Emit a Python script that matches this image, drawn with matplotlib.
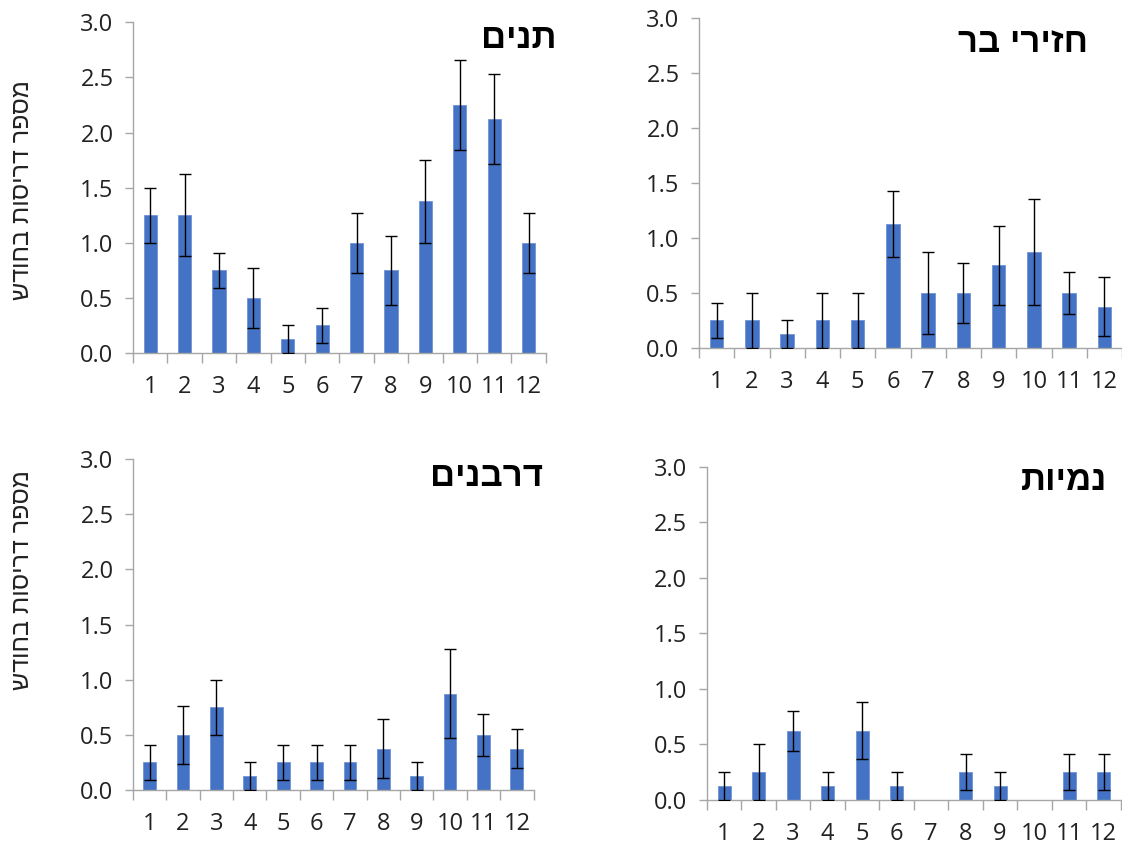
import numpy as np
import matplotlib
matplotlib.use("Agg")
import matplotlib.pyplot as plt

# months
months = [str(m) for m in range(1, 13)]

# mean road-kills per month and standard error, per species
jackal_mean = [1.25, 1.25, 0.75, 0.5, 0.125, 0.25, 1.0, 0.75, 1.375, 2.25, 2.125, 1.0]
jackal_err = [0.25, 0.37, 0.16, 0.27, 0.125, 0.16, 0.27, 0.31, 0.38, 0.41, 0.41, 0.27]

boar_mean = [0.25, 0.25, 0.125, 0.25, 0.25, 1.125, 0.5, 0.5, 0.75, 0.875, 0.5, 0.375]
boar_err = [0.16, 0.25, 0.125, 0.25, 0.25, 0.30, 0.37, 0.27, 0.36, 0.48, 0.19, 0.27]

porcupine_mean = [0.25, 0.5, 0.75, 0.125, 0.25, 0.25, 0.25, 0.375, 0.125, 0.875, 0.5, 0.375]
porcupine_err = [0.16, 0.26, 0.25, 0.125, 0.16, 0.16, 0.16, 0.27, 0.125, 0.40, 0.19, 0.18]

mongoose_mean = [0.125, 0.25, 0.625, 0.125, 0.625, 0.125, 0, 0.25, 0.125, 0, 0.25, 0.25]
mongoose_err = [0.125, 0.25, 0.18, 0.125, 0.26, 0.125, 0, 0.16, 0.125, 0, 0.16, 0.16]

# titles (Hebrew, reversed for left-to-right rendering)
titles = ["תנים", "חזירי בר", "דרבנים", "נמיות"]
ylabel = "מספר דריסות בחודש"

yticks = [0.0, 0.5, 1.0, 1.5, 2.0, 2.5, 3.0]


def rtl(s):
    return s[::-1]


fig = plt.figure(figsize=(11.22, 8.46), dpi=100)

# axes rect, data, title position (px), y-label centre (px) or None
panels = [
    ([0.1185, 0.5827, 0.368, 0.391], jackal_mean, jackal_err, titles[0], (557, 38), 190),
    ([0.623, 0.5887, 0.377, 0.390], boar_mean, boar_err, titles[1], (1088, 42), None),
    ([0.1185, 0.0662, 0.357, 0.391], porcupine_mean, porcupine_err, titles[2], (543, 476), 580),
    ([0.630, 0.0544, 0.369, 0.394], mongoose_mean, mongoose_err, titles[3], (1107, 480), None),
]

blue = "#4472C4"
gray = "#A6A6A6"

for rect, mean, err, title, tpos, ylab_y in panels:
    ax = fig.add_axes(rect)
    x = np.arange(len(months))
    m = np.array(mean)
    e = np.array(err)
    ax.bar(x, m, width=0.38, color=blue, edgecolor="#6F94D6", linewidth=0.6, zorder=2)
    nz = m > 0
    ax.errorbar(x[nz], m[nz], yerr=e[nz], fmt="none", ecolor="black",
                elinewidth=1.0, capsize=4, capthick=1.0, zorder=3)

    ax.set_xlim(-0.5, 11.5)
    ax.set_ylim(0, 3.0)
    ax.set_yticks(yticks)
    ax.set_yticklabels([f"{v:.1f}" for v in yticks], fontsize=17, family="Open Sans")
    ax.set_xticks(x)
    ax.set_xticklabels(months, fontsize=17, family="Open Sans")
    ax.set_xticks(np.arange(-0.5, 12, 1), minor=True)
    ax.tick_params(axis="x", which="major", length=0, pad=16, colors="#222222")
    ax.tick_params(axis="x", which="minor", length=7, width=1, color=gray)
    ax.tick_params(axis="y", length=6, width=1, color=gray, pad=8, labelcolor="#222222")

    for side in ["top", "right"]:
        ax.spines[side].set_visible(False)
    for side in ["left", "bottom"]:
        ax.spines[side].set_color(gray)
        ax.spines[side].set_linewidth(1)

    fig.text(tpos[0] / 1122, 1 - tpos[1] / 846, rtl(title), ha="right", va="center",
             fontsize=25, fontweight="bold", family="Liberation Sans")

    if ylab_y is not None:
        fig.text(22 / 1122, 1 - ylab_y / 846, rtl(ylabel), rotation=90, ha="center",
                 va="center", fontsize=18, family="Liberation Sans", color="#222222")

fig.savefig("out.png", dpi=100)
